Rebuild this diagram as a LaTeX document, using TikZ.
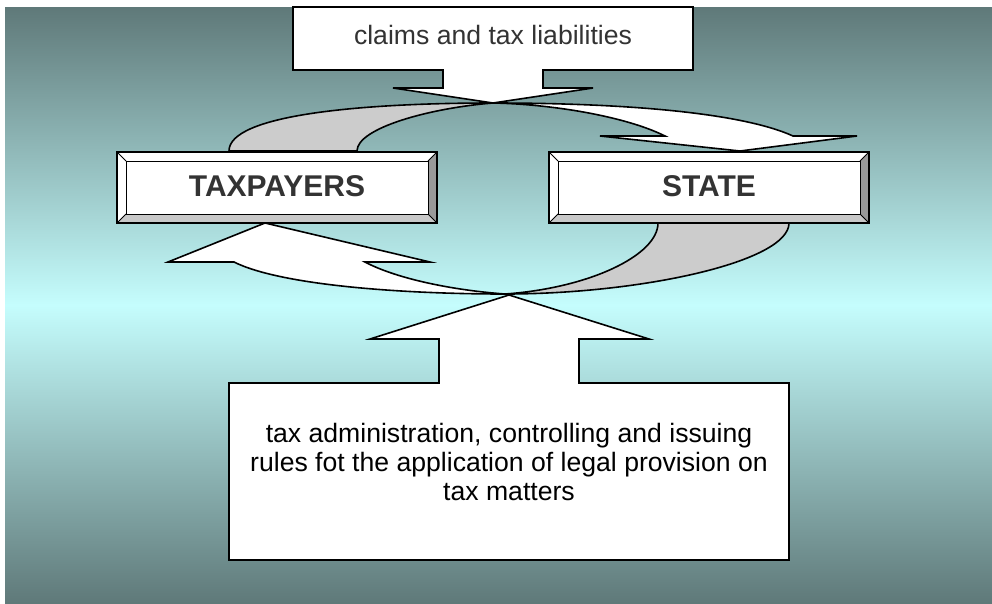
\documentclass[tikz,border=0pt]{standalone}
\usepackage{fontspec}
\setmainfont{Liberation Sans}
\usetikzlibrary{calc}
\definecolor{bgdark}{RGB}{95,121,121}
\definecolor{bglight}{RGB}{197,253,253}
\definecolor{backgray}{RGB}{204,204,204}
\definecolor{bevelright}{RGB}{153,153,153}
\definecolor{bevelbottom}{RGB}{200,200,200}
\definecolor{labelgray}{RGB}{51,51,51}
\begin{document}
\begin{tikzpicture}[x=1pt,y=-1pt,
  outline/.style={draw=black,line width=1.6pt,line join=miter},
  backpart/.style={outline,fill=backgray},
  frontpart/.style={outline,fill=white},
  calloutshape/.style={outline,fill=white},
  bevelline/.style={draw=black,line width=0.9pt},
  plainlabel/.style={text=labelgray,font=\fontsize{26.6}{29.3}\selectfont,align=center,inner sep=0pt},
  boxlabel/.style={text=labelgray,font=\fontsize{30}{33}\selectfont\bfseries,inner sep=0pt}]

% page and background gradient
\useasboundingbox (0,0) rectangle (992,603);
\fill[white] (0,0) rectangle (992,603);
\shade[top color=bgdark,bottom color=bgdark,middle color=bglight] (5,7) rectangle (992,603);

% bevelled panel: #1 name, (#2,#3)-(#4,#5) outer corners, #6 text
\newcommand{\bevelpanel}[6]{%
  \coordinate (#1-a) at (#2,#3);
  \coordinate (#1-b) at (#4,#3);
  \coordinate (#1-c) at (#4,#5);
  \coordinate (#1-d) at (#2,#5);
  \coordinate (#1-ia) at ($(#1-a)+(9,9)$);
  \coordinate (#1-ib) at ($(#1-b)+(-9,9)$);
  \coordinate (#1-ic) at ($(#1-c)+(-9,-9)$);
  \coordinate (#1-id) at ($(#1-d)+(9,-9)$);
  \fill[white] (#1-a) -- (#1-b) -- (#1-ib) -- (#1-ia) -- cycle;
  \fill[white] (#1-a) -- (#1-ia) -- (#1-id) -- (#1-d) -- cycle;
  \fill[bevelright] (#1-b) -- (#1-c) -- (#1-ic) -- (#1-ib) -- cycle;
  \fill[bevelbottom] (#1-d) -- (#1-id) -- (#1-ic) -- (#1-c) -- cycle;
  \draw[bevelline,fill=white] (#1-ia) rectangle (#1-ic);
  \draw[bevelline] (#1-a) -- (#1-ia) (#1-b) -- (#1-ib) (#1-c) -- (#1-ic) (#1-d) -- (#1-id);
  \draw[outline] (#1-a) rectangle (#1-c);
  \node[boxlabel] (#1) at ($(#1-a)!0.5!(#1-c)+(0,-1.5)$) {#6};
}

% curved arrow from the taxpayers panel over to the state panel
\coordinate (upx) at (493,103);
\draw[backpart] (229,151) .. controls (229,115) and (360,103) .. (upx)
  .. controls (430,108) and (357,128) .. (357,151) -- cycle;
\draw[frontpart] (upx) .. controls (620,103) and (740,112) .. (793,136)
  -- (857,136) -- (740,151) -- (600,136) -- (665,136)
  .. controls (625,116) and (550,104) .. (upx) -- cycle;

% curved arrow from the state panel back under to the taxpayers panel
\coordinate (lox) at (505,294);
\draw[backpart] (lox) .. controls (640,294) and (789,262) .. (789,223)
  -- (658,223) .. controls (658,255) and (590,288) .. (lox) -- cycle;
\draw[frontpart] (lox) .. controls (400,294) and (280,285) .. (234,262)
  -- (168,262) -- (265,223) -- (430,262) -- (365,262)
  .. controls (395,278) and (450,290) .. (lox) -- cycle;

% the two parties
\bevelpanel{taxpayers}{117}{152}{437}{223}{TAXPAYERS}
\bevelpanel{state}{549}{152}{869}{223}{STATE}

% callout pointing down onto the upper arrow
\draw[calloutshape] (293,7) -- (693,7) -- (693,70) -- (543,70) -- (543,88)
  -- (593,88) -- (493,103) -- (393,88) -- (443,88) -- (443,70) -- (293,70) -- cycle;
\node[plainlabel] (claims) at (493,35) {claims and tax liabilities};

% callout pointing up onto the lower arrow
\draw[calloutshape] (229,383) -- (439,383) -- (439,339) -- (370,339) -- (509,295)
  -- (649,339) -- (579,339) -- (579,383) -- (789,383) -- (789,560) -- (229,560) -- cycle;
\node[plainlabel,text=black] (admin) at (509,462)
  {tax administration, controlling and issuing\\rules fot the application of legal provision on\\tax matters};
\end{tikzpicture}
\end{document}
